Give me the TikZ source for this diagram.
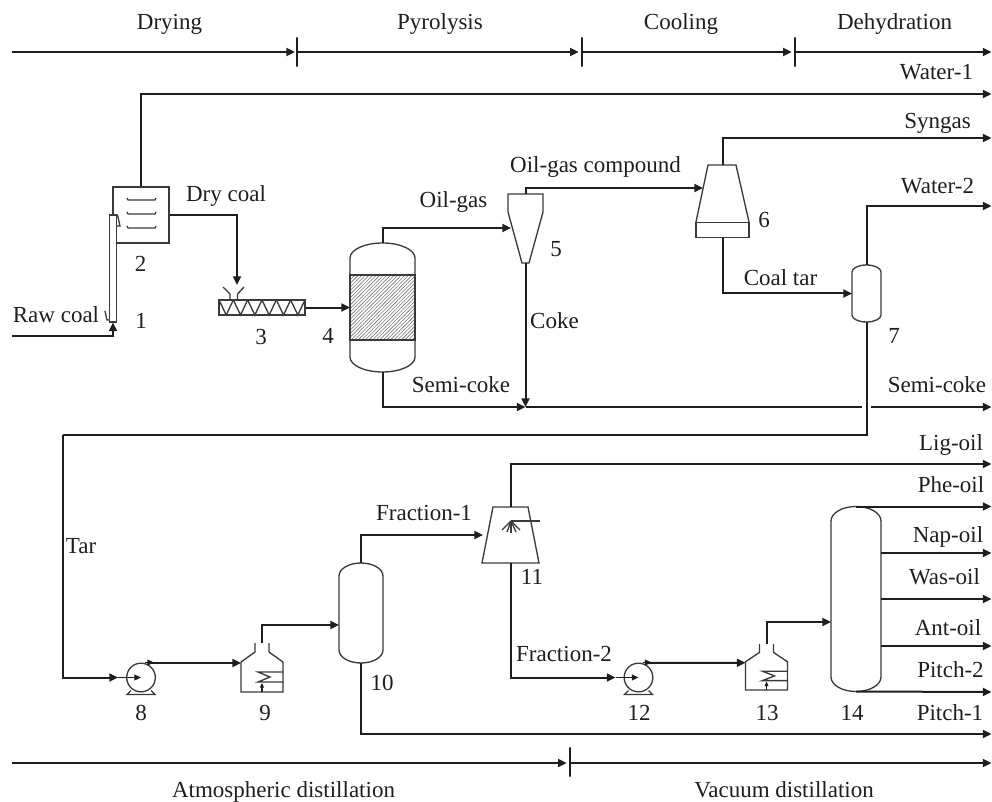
\documentclass[tikz,border=0pt]{standalone}
\usepackage{fontspec}
\setmainfont{Liberation Serif}
\usetikzlibrary{arrows.meta,positioning,calc,patterns.meta}
\definecolor{inkline}{HTML}{1E1E1E}
\definecolor{inkeq}{HTML}{3A3A3A}
\tikzset{
  txt/.style   ={inner sep=0pt, text=inkline, text height=11.25pt, text depth=3.75pt,
                 font=\fontsize{17.25}{20}\selectfont},
  eq/.style    ={draw=inkeq, line width=1pt},
  box/.style   ={rectangle, draw=inkeq, line width=1pt, fill=white, inner sep=0pt},
  hull/.style  ={rectangle, inner sep=0pt, outer sep=0pt},
  ln/.style    ={line width=1.5pt, draw=inkline},
  ar/.style    ={-{Stealth[length=6.5pt,width=6pt,inset=0pt]}, line width=1.5pt, draw=inkline},
  sar/.style   ={-{Stealth[length=5pt,width=4.5pt,inset=0pt]}, line width=.8pt, draw=inkline},
  tk/.style    ={rectangle, draw=inkline, line width=1.2pt, minimum width=0pt,
                 minimum height=22pt, inner sep=0pt},
  pics/vsl/.style n args={3}{code={
    \draw[eq] (-#1,-#2) arc[start angle=180,end angle=360,x radius=#1,y radius=#3]
      -- (#1,#2) arc[start angle=0,end angle=180,x radius=#1,y radius=#3] -- cycle;
    \coordinate (-n) at (0,-#2-#3);
    \coordinate (-s) at (0,#2+#3);
    \coordinate (-w) at (-#1,0);
    \coordinate (-e) at (#1,0);
  }},
  pics/pump/.style={code={
    \node[circle, draw=inkeq, line width=1pt, minimum size=21.5pt, inner sep=0pt] (-c) at (0,0) {};
    \draw[eq] (-10,13) -- (-14,17) -- (14,17) -- (10,13);
    \coordinate (-in) at (-23,0);
    \coordinate (-out) at (9,-14.5);
    \draw[sar] (-in) -- (-c.center);
    \draw[sar] (4,-15) -- (13,-15);
  }},
  pics/heater/.style={code={
    \draw[eq] (-7,-49) -- (-7,-40) -- (-21,-30) -- (-21,0) -- (21,0) -- (21,-30) -- (7,-40) -- (7,-49);
    \draw[eq] (21,-20) -- (-4,-20) -- (8,-15) -- (-4,-10) -- (21,-10);
    \draw[-{Stealth[length=3.5pt,width=3pt,inset=0pt]}, line width=.8pt, draw=inkline] (0,0) -- (0,-9);
    \coordinate (-top) at (0,-49);
    \coordinate (-in) at (-21,-29);
  }},
}
\begin{document}
\begin{tikzpicture}[x=0.75pt,y=-0.75pt]
\useasboundingbox (0,0) rectangle (992,802);
% stage axes
\coordinate (a0) at (12,52);
\coordinate (a4) at (991.5,52);
\node[tk] (a1) at (297,52) {};
\node[tk] (a2) at (582,52) {};
\node[tk] (a3) at (795,52) {};
\draw[ar] (a0) -- ([xshift=-1.5pt]a1.center);
\draw[ar] (a1) -- ([xshift=-2.5pt]a2.center);
\draw[ar] (a2) -- ([xshift=-2.5pt]a3.center);
\draw[ar] (a3) -- (a4);
\node[txt] (drying) at (169.5,25) {Drying};
\node[txt] (pyro)   at (440,25) {Pyrolysis};
\node[txt] (cool)   at (681,25) {Cooling};
\node[txt] (dehy)   at (894.5,25) {Dehydration};
\coordinate (b0) at (12,763);
\coordinate (b2) at (991.5,763);
\node[tk] (b1) at (570,762) {};
\draw[ar] (b0) -- ([xshift=-2.5pt]b1.center |- b0);
\draw[ar] (b1.center |- b0) -- (b2);
\node[txt] (atm) at (283.5,792) {Atmospheric distillation};
\node[txt] (vac) at (784,792) {Vacuum distillation};
% free ends on the right
\foreach \n/\yy in {water1/94,syngas/138,water2/206,semi/407,lig/464,phe/506.5,nap/553,was/599,ant/646,pit2/692,pit1/734}{
  \coordinate (\n) at (991.5,\yy);
}
\foreach \t/\xx/\yy/\lab in {lwat1/936.5/75/Water-1,lsyn/937.5/124/Syngas,lwat2/937.5/189/Water-2,lsemi/937/387/Semi-coke,
    llig/951/445/Lig-oil,lphe/951/487/Phe-oil,lnap/948/537/Nap-oil,lwas/944.5/579/Was-oil,
    lant/948/630/Ant-oil,lpit2/950.5/672/Pitch-2,lpit1/950/715/Pitch-1}{
  \node[txt] (\t) at (\xx,\yy) {\lab};
}
% drying
\coordinate (raw) at (12,336);
\node[box, minimum width=42pt, minimum height=42pt] (r2) at (141,215) {};
\foreach \yy in {200,214,228}{\draw[eq] (127,\yy-2) -- (128,\yy) -- (155,\yy) -- (156,\yy-2);}
\node[box, minimum width=5.6pt, minimum height=80pt] (r1) at (113,268.5) {};
\draw[eq] (r1.north east) -- (120,226) -- (116.5,226);
\draw[eq] (105,311) -- (107,320) -- (109,320);
\draw[ar] (raw) -| (r1.south);
\draw[ar] (r2.north) |- (water1);
\node[box, minimum width=64.5pt, minimum height=11.25pt] (r3) at (262,307.5) {};
\foreach \i in {0,...,5}{\draw[eq] (219+14.33*\i,300) -- (226.2+14.33*\i,315) -- (233.3+14.33*\i,300);}
\draw[eq] (223,287) -- (230,294) -- (230,300);
\draw[eq] (244,287) -- (237.5,294) -- (237.5,300);
\coordinate (hop) at (237,285);
\draw[ar] (r2.east) -| (hop);
\node[txt] (lraw) at (56,317) {Raw coal};
\node[txt] (ldry) at (226,197) {Dry coal};
\node[txt] (n1) at (141,323) {1};
\node[txt] (n2) at (140.5,267) {2};
\node[txt] (n3) at (261,339) {3};
\node[txt] (n4) at (328,338) {4};
% pyrolysis
\pic (v4) at (382.5,307.5) {vsl={32.5}{49.5}{15}};
\path[draw=inkeq, line width=1pt, pattern={Lines[angle=45,distance=1.9pt,line width=.45pt]}, pattern color=black!55]
  (350,275) rectangle (415,340);
\draw[ar] (r3.east) -- (v4-w);
\node[hull, minimum width=26.25pt, minimum height=13.5pt] (c5) at (525.5,203) {};
\draw[eq] (c5.south west) -- (c5.north west) -- (c5.north east) -- (c5.south east) -- (529,263) -- (522,263) -- cycle;
\coordinate (c5b) at (525.5,263);
\coordinate (i5) at (511,228);
\coordinate (jn) at (525.5,407);
\draw[ar] (v4-n) |- (i5);
\draw[ar] (c5b) -- (jn);
\draw[ar] (v4-s) |- (jn);
\node[txt] (loil) at (453.5,203) {Oil-gas};
\node[txt] (lcomp) at (595.5,168) {Oil-gas compound};
\node[txt] (lcoke) at (554.5,323) {Coke};
\node[txt] (lsem) at (461,387) {Semi-coke};
\node[txt] (n5) at (556,252) {5};
% cooling
\node[hull, minimum width=39.75pt, minimum height=42.75pt] (t6) at (722.5,193.5) {};
\draw[eq] (t6.south west) -- ($(t6.north west)+(12,0)$) -- ($(t6.north east)+(-13,0)$) -- (t6.south east);
\node[box, minimum width=39.75pt, minimum height=11.25pt, anchor=north] (t6b) at (t6.south) {};
\coordinate (i6) at (703,188);
\draw[ar] (c5.north) |- (i6);
\draw[ar] (t6.north) |- (syngas);
\pic (v7) at (866.5,293.5) {vsl={14.5}{21.5}{7}};
\draw[ar] (t6b.south) |- (v7-w);
\draw[ar] (v7-n) |- (water2);
\node[txt] (lcoal) at (780.5,281) {Coal tar};
\node[txt] (n6) at (764,223) {6};
\node[txt] (n7) at (894,338) {7};
% gap where the tar pipe crosses
\coordinate (gapa) at (862,407);
\coordinate (gapb) at (871,407);
\draw[ln] (jn) -- (gapa);
\draw[ar] (gapb) -- (semi);
% atmospheric distillation
\pic (p8) at (141,677.5) {pump};
\pic (h9) at (262,692) {heater};
\pic (v10) at (361,613) {vsl={22}{37}{13}};
\coordinate (i10) at (339,625);
\coordinate (bnd) at (63,435);
\draw[ln] (v7-s) |- (bnd);
\draw[ar] (bnd) |- (p8-in);
\draw[ar] (p8-out) -- (h9-in);
\draw[ar] (h9-top) |- (i10);
\draw[ar] (v10-s) |- (pit1);
\node[txt] (ltar) at (81,548) {Tar};
\node[txt] (n8) at (141,715) {8};
\node[txt] (n9) at (265,715) {9};
\node[txt] (n10) at (382,685) {10};
% vacuum distillation
\node[hull, minimum width=42.75pt, minimum height=42pt] (t11) at (510.5,535) {};
\draw[eq] (t11.south west) -- ($(t11.north west)+(11,0)$) -- ($(t11.north east)+(-11,0)$) -- (t11.south east) -- cycle;
\coordinate (i11) at (483,535);
\draw[ar] (v10-n) |- (i11);
\draw[ar] (t11.north) |- (lig);
\draw[eq] (511,521) -- (540,521);
\foreach \dx/\dy in {-9/9,-4/11,0/12,5/11,9/9}{\draw[eq] (511,521) -- (511+\dx,521+\dy);}
\pic (p12) at (638.5,677.5) {pump};
\pic[yscale=.94] (h13) at (766.5,690) {heater};
\pic (v14) at (856,599) {vsl={25}{78}{14.5}};
\coordinate (i14) at (831,622);
\draw[ar] (t11.south) |- (p12-in);
\draw[ar] (p12-out) -- (h13-in);
\draw[ar] (h13-top) |- (i14);
\draw[ar] (v14-n) -- (phe);
\foreach \n in {nap,was,ant}{\draw[ar] (v14-e |- \n) -- (\n);}
\draw[ar] (v14-s) -- (pit2);
\node[txt] (lf1) at (424,515) {Fraction-1};
\node[txt] (lf2) at (564,656) {Fraction-2};
\node[txt] (n11) at (532,579) {11};
\node[txt] (n12) at (639,715) {12};
\node[txt] (n13) at (767,715) {13};
\node[txt] (n14) at (852,715) {14};
\end{tikzpicture}
\end{document}
